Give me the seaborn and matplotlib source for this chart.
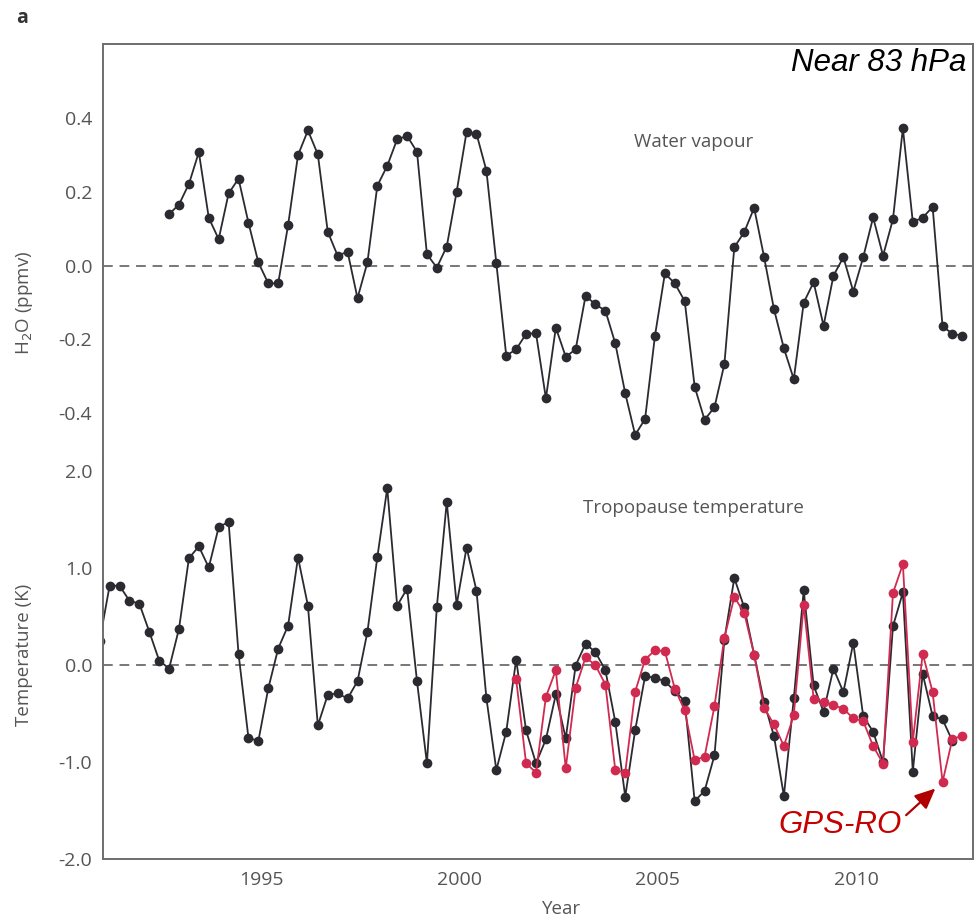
import numpy as np
import pandas as pd
import matplotlib
matplotlib.use("Agg")
import matplotlib.pyplot as plt
from matplotlib.ticker import FixedLocator
import seaborn as sns

sns.set_theme(style="white")
plt.rcParams["font.family"] = ["Open Sans", "DejaVu Sans"]
plt.rcParams["axes.unicode_minus"] = False

# Quarterly (seasonal) anomalies; time stamps are season centres
WV_START = 1992.68
water_vapour = [
    0.140, 0.166, 0.222, 0.308, 0.130, 0.072, 0.196, 0.236, 0.117, 0.009,
    -0.048, -0.048, 0.110, 0.300, 0.367, 0.302, 0.092, 0.027, 0.038, -0.088,
    0.009, 0.217, 0.271, 0.343, 0.352, 0.309, 0.031, -0.005, 0.052, 0.201,
    0.363, 0.358, 0.258, 0.007, -0.244, -0.227, -0.185, -0.183, -0.360, -0.168,
    -0.247, -0.227, -0.082, -0.105, -0.122, -0.211, -0.346, -0.459, -0.416, -0.190,
    -0.021, -0.048, -0.096, -0.328, -0.418, -0.384, -0.267, 0.050, 0.091, 0.157,
    0.024, -0.118, -0.224, -0.308, -0.100, -0.045, -0.163, -0.027, 0.023, -0.070,
    0.023, 0.131, 0.027, 0.126, 0.373, 0.119, 0.130, 0.160, -0.164, -0.185,
    -0.190,
]

TT_START = 1990.93
tropopause_temp = [
    0.254, 0.821, 0.821, 0.666, 0.635, 0.347, 0.048, -0.034, 0.378, 1.106,
    1.226, 1.009, 1.425, 1.480, 0.120, -0.748, -0.783, -0.240, 0.172, 0.409,
    1.112, 0.615, -0.621, -0.305, -0.291, -0.343, -0.165, 0.344, 1.116, 1.827,
    0.615, 0.790, -0.165, -1.012, 0.601, 1.686, 0.625, 1.215, 0.769, -0.340,
    -1.081, -0.686, 0.059, -0.673, -1.012, -0.765, -0.302, -0.755, -0.003, 0.223,
    0.134, -0.051, -0.587, -1.356, -0.673, -0.113, -0.130, -0.165, -0.268, -0.371,
    -1.401, -1.298, -0.930, 0.265, 0.900, 0.597, 0.110, -0.381, -0.731, -1.349,
    -0.343, 0.772, -0.209, -0.480, -0.034, -0.278, 0.231, -0.525, -0.686, -0.999,
    0.402, 0.752, -1.098, -0.089, -0.525, -0.559, -0.783,
]

GPS_START = 2001.43
gps_ro_temp = [
    -0.147, -1.012, -1.108, -0.326, -0.051, -1.064, -0.233, 0.082, 0.000, -0.199,
    -1.085, -1.108, -0.274, 0.059, 0.155, 0.145, -0.243, -0.467, -0.978, -0.945,
    -0.422, 0.285, 0.704, 0.540, 0.110, -0.439, -0.611, -0.834, -0.515, 0.625,
    -0.346, -0.377, -0.412, -0.449, -0.549, -0.577, -0.834, -1.015, 0.745, 1.044,
    -0.789, 0.120, -0.278, -1.205, -0.758, -0.731,
]

wv_ticks = [-0.4, -0.2, 0.0, 0.2, 0.4]
tt_ticks = [-2.0, -1.0, 0.0, 1.0, 2.0]
year_major = [1995, 2000, 2005, 2010]
year_minor = list(range(1992, 2013))


def quarterly(start, values):
    return pd.DataFrame({"year": start + 0.25 * np.arange(len(values)),
                         "value": values})


wv_df = quarterly(WV_START, water_vapour)
tt_df = quarterly(TT_START, tropopause_temp)
gps_df = quarterly(GPS_START, gps_ro_temp)
gps_label_idx = 43  # season the GPS-RO arrow points at

DARK = "#2a2a30"
RED = "#d02a50"
AXIS_GREY = "#6e6e6e"
TEXT_GREY = "#555555"

fig = plt.figure(figsize=(9.76, 9.19), dpi=100)
ax_top = fig.add_axes([0.1058, 0.4975, 0.8908, 0.45462])
ax_bot = fig.add_axes([0.1058, 0.06529, 0.8908, 0.43221])

xlim = (1991.02, 2012.94)
line_kw = dict(marker="o", markersize=7, linewidth=1.3,
               markeredgewidth=0, sort=False, estimator=None)

sns.lineplot(data=wv_df, x="year", y="value", ax=ax_top, color=DARK, **line_kw)
sns.lineplot(data=tt_df, x="year", y="value", ax=ax_bot, color=DARK, **line_kw)
sns.lineplot(data=gps_df, x="year", y="value", ax=ax_bot, color=RED,
             zorder=3, **line_kw)

for ax in (ax_top, ax_bot):
    ax.axhline(0, color="#777777", lw=1.4, ls=(0, (5, 3.5)), zorder=0)
    ax.set_xlim(*xlim)
    ax.set_xlabel("")
    ax.set_ylabel("")
    for side in ("left", "right", "top", "bottom"):
        ax.spines[side].set_color(AXIS_GREY)
        ax.spines[side].set_linewidth(1.4)
    ax.tick_params(axis="y", direction="in", length=8, width=1.2,
                   color=AXIS_GREY, labelcolor=TEXT_GREY, labelsize=14, pad=8)

ax_top.spines["bottom"].set_visible(False)
ax_bot.spines["top"].set_visible(False)

ax_top.set_ylim(-0.532, 0.6015)
ax_top.yaxis.set_major_locator(FixedLocator(wv_ticks))
ax_top.set_yticklabels([f"{t:.1f}" for t in wv_ticks])
ax_top.set_xticks([])

ax_bot.set_ylim(-2.0, 2.1)
ax_bot.yaxis.set_major_locator(FixedLocator(tt_ticks))
ax_bot.set_yticklabels([f"{t:.1f}" for t in tt_ticks])
ax_bot.xaxis.set_major_locator(FixedLocator(year_major))
ax_bot.xaxis.set_minor_locator(FixedLocator(year_minor))
ax_bot.set_xticklabels([str(y) for y in year_major])
ax_bot.tick_params(axis="x", which="major", direction="in", length=10, width=1.2,
                   color=AXIS_GREY, labelcolor=TEXT_GREY, labelsize=14, pad=9)
ax_bot.tick_params(axis="x", which="minor", direction="in", length=7, width=1.2,
                   color=AXIS_GREY)

# Panel captions
ax_top.text(2005.9, 0.335, "Water vapour", ha="center", va="center",
            color=TEXT_GREY, fontsize=13.5)
ax_bot.text(2005.9, 1.624, "Tropopause temperature", ha="center", va="center",
            color=TEXT_GREY, fontsize=13.5)
ax_top.text(0.993, 0.955, "Near 83 hPa", transform=ax_top.transAxes,
            ha="right", va="center", fontsize=22.5, style="italic",
            family=["Liberation Sans", "DejaVu Sans"], color="black")

ax_bot.annotate(
    "GPS-RO",
    xy=(gps_df["year"][gps_label_idx], gps_df["value"][gps_label_idx]),
    xytext=(2009.6, -1.65), textcoords="data",
    ha="center", va="center", fontsize=22.5, style="italic",
    family=["Liberation Sans", "DejaVu Sans"], color="#c40000",
    arrowprops=dict(arrowstyle="-|>,head_length=0.55,head_width=0.25",
                    color="#b00000", lw=1.6, shrinkA=1, shrinkB=7,
                    relpos=(1.0, 0.7)),
)

# Axis titles
fig.text(0.0246, 0.670, "H$_2$O (ppmv)", rotation=90, ha="center", va="center",
         color=TEXT_GREY, fontsize=13.5)
fig.text(0.0246, 0.2873, "Temperature (K)", rotation=90, ha="center",
         va="center", color=TEXT_GREY, fontsize=13.5)
fig.text(0.575, 0.011, "Year", ha="center", va="center", color=TEXT_GREY,
         fontsize=13.5)
fig.text(0.0225, 0.980, "a", ha="center", va="center", fontsize=14,
         weight="bold", color="#333333")

fig.savefig("out.png", dpi=100)
